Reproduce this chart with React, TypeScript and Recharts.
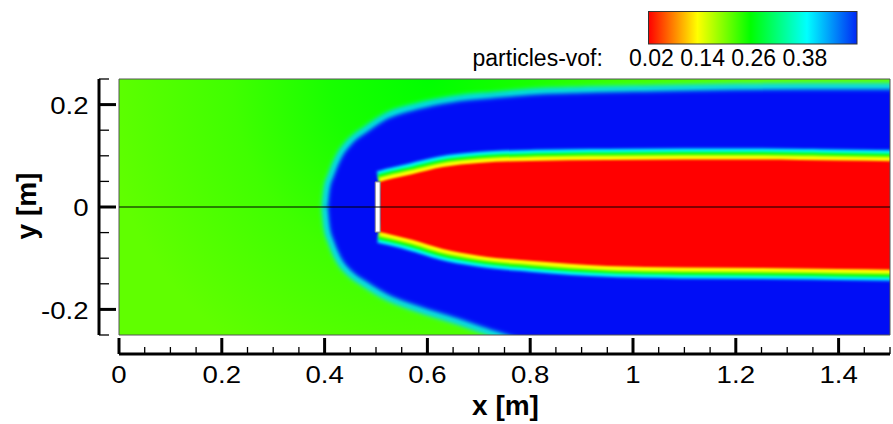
import React from 'react';
import { ComposedChart, Area, XAxis, YAxis, ReferenceArea, ReferenceLine, Label } from 'recharts';

// ---- field geometry (data units: x [m], y [m]) ----
const FIELD_X = [0, 1.5];
const FIELD_Y = [-0.25, 0.25];

// outer (green -> blue) front, cyan centre line
const OUTER_X = [0.4, 0.404, 0.412, 0.428, 0.45, 0.48, 0.52, 0.58, 0.65, 0.73, 0.8, 0.9, 1.04, 1.2, 1.4, 1.55];
const OUTER_TOP = [0, 0.037, 0.062, 0.1, 0.129, 0.152, 0.178, 0.197, 0.211, 0.219, 0.225, 0.229, 0.232, 0.235, 0.236, 0.236];
const OUTER_BOTTOM = [0, -0.041, -0.068, -0.105, -0.131, -0.152, -0.176, -0.199, -0.221, -0.248, -0.27, -0.3, -0.32, -0.34, -0.35, -0.35];

// red core behind the plate
const RED_X = [0.507, 0.53, 0.57, 0.63, 0.7, 0.8, 0.95, 1.1, 1.25, 1.4, 1.55];
const RED_TOP = [0.049, 0.055, 0.064, 0.078, 0.086, 0.09, 0.092, 0.093, 0.093, 0.091, 0.089];
const RED_BOTTOM = [-0.049, -0.054, -0.064, -0.082, -0.095, -0.105, -0.115, -0.118, -0.119, -0.121, -0.123];

// plate
const PLATE_X = [0.4985, 0.508];
const PLATE_Y = [-0.049, 0.049];

// axes
const X_TICKS = [0, 0.05, 0.1, 0.15, 0.2, 0.25, 0.3, 0.35, 0.4, 0.45, 0.5, 0.55, 0.6, 0.65, 0.7, 0.75, 0.8, 0.85, 0.9, 0.95, 1, 1.05, 1.1, 1.15, 1.2, 1.25, 1.3, 1.35, 1.4, 1.45, 1.5];
const X_MAJOR = [0, 0.2, 0.4, 0.6, 0.8, 1, 1.2, 1.4];
const X_LABELS = ['0', '0.2', '0.4', '0.6', '0.8', '1', '1.2', '1.4'];
const Y_TICKS = [-0.25, -0.2, -0.15, -0.1, -0.05, 0, 0.05, 0.1, 0.15, 0.2, 0.25];
const Y_MAJOR = [-0.2, 0, 0.2];
const Y_LABELS = ['-0.2', '0', '0.2'];

// legend
const LEGEND_TITLE = 'particles-vof:';
const LEGEND_LEVELS = ['0.02', '0.14', '0.26', '0.38'];
const LEGEND_STOPS = [0, 0.235, 0.49, 0.76, 1];
const LEGEND_COLORS = ['#ff0000', '#ffff00', '#00ff00', '#00ffff', '#0028f5'];

const FONT = '"Liberation Sans", Arial, Helvetica, sans-serif';

// build one table for the chart
const ALL_X = Array.from(new Set([...FIELD_X, ...OUTER_X, ...RED_X])).sort((a, b) => a - b);
const rangeAt = (xs: number[], lo: number[], hi: number[], x: number) => {
  const i = xs.indexOf(x);
  return i >= 0 ? [lo[i], hi[i]] : [null, null];
};
const ROWS = ALL_X.map((x) => ({
  x,
  field: rangeAt(FIELD_X, [FIELD_Y[0], FIELD_Y[0]], [FIELD_Y[1], FIELD_Y[1]], x),
  outer: rangeAt(OUTER_X, OUTER_BOTTOM, OUTER_TOP, x),
  red: rangeAt(RED_X, RED_BOTTOM, RED_TOP, x),
}));

const findIdx = (arr: number[], v: number) => arr.findIndex((m) => Math.abs(m - v) < 1e-9);

function XTick(props: any) {
  const { x, y, payload } = props;
  const i = findIdx(X_MAJOR, payload.value);
  const major = i >= 0;
  return (
    <g>
      <line x1={x} x2={x} y1={y} y2={y - (major ? 16 : 7)} stroke="#000" strokeWidth={major ? 3 : 1.3} />
      {major && (
        <text transform={`translate(${x} ${y + 29}) scale(1.15 1)`} textAnchor="middle" fontSize={24} fontFamily={FONT} fill="#000">
          {X_LABELS[i]}
        </text>
      )}
    </g>
  );
}

function YTick(props: any) {
  const { x, y, payload } = props;
  const i = findIdx(Y_MAJOR, payload.value);
  const major = i >= 0;
  return (
    <g>
      <line x1={x} x2={x + (major ? 17 : 10)} y1={y} y2={y} stroke="#000" strokeWidth={major ? 3 : 1.3} />
      {major && (
        <text transform={`translate(${x - 10.5} ${y + 9.3}) scale(1.15 1)`} textAnchor="end" fontSize={24} fontFamily={FONT} fill="#000">
          {Y_LABELS[i]}
        </text>
      )}
    </g>
  );
}

const XTitle = (p: any) => {
  const vb = p.viewBox;
  return (
    <text x={vb.x + vb.width / 2 + 1} y={vb.y + vb.height - 9} textAnchor="middle" fontSize={28} fontWeight="bold" fontFamily={FONT} fill="#000">
      x [m]
    </text>
  );
};

const YTitle = (p: any) => {
  const vb = p.viewBox;
  const cx = vb.x + 36;
  const cy = vb.y + vb.height / 2 - 1;
  return (
    <text x={cx} y={cy} transform={`rotate(-90 ${cx} ${cy})`} textAnchor="middle" fontSize={28} fontWeight="bold" fontFamily={FONT} fill="#000">
      y [m]
    </text>
  );
};

export default function App() {
  return (
    <div style={{ position: 'absolute', left: 0, top: 0, width: 893, height: 424, background: '#fff' }}>
      <style>{`.fb2 path{filter:url(#fb2)} .fb15 path{filter:url(#fb15)} .fb1 path{filter:url(#fb1)}`}</style>
      <ComposedChart width={893} height={424} data={ROWS} margin={{ top: 79, right: 3, bottom: 0, left: 0 }}>
        <defs>
          <radialGradient id="gbg" gradientUnits="userSpaceOnUse" cx={430} cy={79} r={330}>
            <stop offset="0" stopColor="#00ff00" />
            <stop offset="0.3" stopColor="#18ff00" />
            <stop offset="0.6" stopColor="#40ff00" />
            <stop offset="1" stopColor="#60ff00" />
          </radialGradient>
          <filter id="fb2" filterUnits="userSpaceOnUse" x={0} y={0} width={893} height={424}>
            <feGaussianBlur stdDeviation={2.4} />
          </filter>
          <filter id="fb15" filterUnits="userSpaceOnUse" x={0} y={0} width={893} height={424}>
            <feGaussianBlur stdDeviation={1.6} />
          </filter>
          <filter id="fb1" filterUnits="userSpaceOnUse" x={0} y={0} width={893} height={424}>
            <feGaussianBlur stdDeviation={1} />
          </filter>
        </defs>

        <XAxis xAxisId="m" dataKey="x" type="number" domain={[0, 1.5]} allowDataOverflow height={19} tick={false} axisLine={false} tickLine={false} />
        <XAxis
          xAxisId="t"
          dataKey="x"
          type="number"
          domain={[0, 1.5]}
          allowDataOverflow
          ticks={X_TICKS}
          interval={0}
          height={70}
          tickSize={0}
          tickMargin={0}
          tickLine={false}
          axisLine={{ stroke: '#000', strokeWidth: 3 }}
          tick={(p: any) => <XTick {...p} />}
        >
          <Label content={XTitle} />
        </XAxis>
        <YAxis yAxisId="m" type="number" domain={[-0.25, 0.25]} allowDataOverflow width={20} tick={false} axisLine={false} tickLine={false} />
        <YAxis
          yAxisId="t"
          type="number"
          domain={[-0.25, 0.25]}
          allowDataOverflow
          ticks={Y_TICKS}
          interval={0}
          width={99}
          tickSize={0}
          tickMargin={0}
          tickLine={false}
          axisLine={{ stroke: '#000', strokeWidth: 3 }}
          tick={(p: any) => <YTick {...p} />}
        >
          <Label content={YTitle} />
        </YAxis>

        <Area xAxisId="m" yAxisId="m" dataKey="field" type="linear" fill="url(#gbg)" fillOpacity={1} stroke="none" connectNulls dot={false} activeDot={false} isAnimationActive={false} />
        <Area xAxisId="m" yAxisId="m" dataKey="outer" type="monotone" className="fb2" fill="#0010f6" fillOpacity={1} stroke="#00ffff" strokeWidth={5} connectNulls dot={false} activeDot={false} isAnimationActive={false} />
        <Area xAxisId="m" yAxisId="m" dataKey="red" type="monotone" className="fb15" fill="none" fillOpacity={0} stroke="#00ffff" strokeWidth={22} connectNulls dot={false} activeDot={false} isAnimationActive={false} />
        <Area xAxisId="m" yAxisId="m" dataKey="red" type="monotone" className="fb15" fill="none" fillOpacity={0} stroke="#00ff00" strokeWidth={15} connectNulls dot={false} activeDot={false} isAnimationActive={false} />
        <Area xAxisId="m" yAxisId="m" dataKey="red" type="monotone" className="fb15" fill="none" fillOpacity={0} stroke="#ffff00" strokeWidth={9} connectNulls dot={false} activeDot={false} isAnimationActive={false} />
        <Area xAxisId="m" yAxisId="m" dataKey="red" type="monotone" className="fb1" fill="#ff0000" fillOpacity={1} stroke="none" connectNulls dot={false} activeDot={false} isAnimationActive={false} />

        <ReferenceLine xAxisId="m" yAxisId="m" y={0} stroke="#000" strokeWidth={1} />
        <ReferenceArea xAxisId="m" yAxisId="m" x1={PLATE_X[0]} x2={PLATE_X[1]} y1={PLATE_Y[0]} y2={PLATE_Y[1]} fill="#ffffff" fillOpacity={1} stroke="#8a8a8a" strokeWidth={1} />
        <ReferenceArea xAxisId="m" yAxisId="m" x1={FIELD_X[0]} x2={FIELD_X[1]} y1={FIELD_Y[0]} y2={FIELD_Y[1]} fill="none" stroke="#555" strokeWidth={1} />
      </ComposedChart>

      <svg width={893} height={80} style={{ position: 'absolute', left: 0, top: 0, pointerEvents: 'none' }}>
        <defs>
          <linearGradient id="legendGrad" x1="0" x2="1" y1="0" y2="0">
            {LEGEND_STOPS.map((o, i) => (
              <stop key={i} offset={o} stopColor={LEGEND_COLORS[i]} />
            ))}
          </linearGradient>
        </defs>
        <rect x={648.5} y={11.5} width={208.5} height={32.5} fill="url(#legendGrad)" stroke="#333" strokeWidth={1} />
        <text x={472.5} y={65.5} fontSize={23} fontFamily={FONT} fill="#000">
          {LEGEND_TITLE}
        </text>
        <text x={629} y={65.5} fontSize={23} fontFamily={FONT} fill="#000">
          {LEGEND_LEVELS.join(' ')}
        </text>
      </svg>
    </div>
  );
}
